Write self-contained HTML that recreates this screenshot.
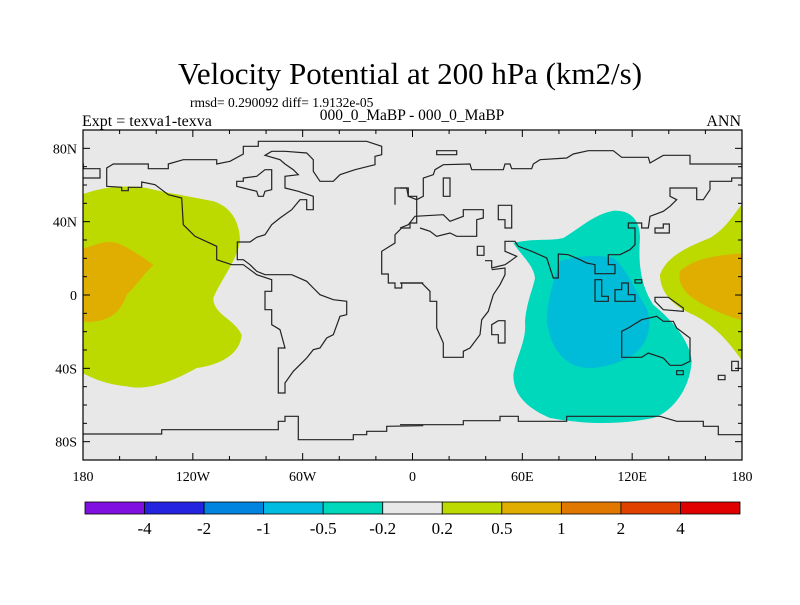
<!DOCTYPE html>
<html><head><meta charset="utf-8"><style>
body{margin:0;background:#fff;}
svg text{font-family:"Liberation Serif",serif;fill:#000;}
</style></head><body>
<svg id="chart" width="800" height="600" viewBox="0 0 800 600">
<text x="410" y="84" font-size="31" text-anchor="middle">Velocity Potential at 200 hPa (km2/s)</text>
<text x="190" y="107" font-size="13.5">rmsd= 0.290092 diff= 1.9132e-05</text>
<text x="82" y="126" font-size="16">Expt = texva1-texva</text>
<text x="412" y="120" font-size="15.5" text-anchor="middle">000_0_MaBP - 000_0_MaBP</text>
<text x="741" y="126" font-size="16" text-anchor="end">ANN</text>
<g id="map"></g>
<g id="cbar"></g>
</svg>
<script>
const xTickLabels=["180","120W","60W","0","60E","120E","180"];
const xTickLons=[-180,-120,-60,0,60,120,180];
const yTickLabels=["80S","40S","0","40N","80N"];
const yTickLats=[-80,-40,0,40,80];
const levels=["-4","-2","-1","-0.5","-0.2","0.2","0.5","1","2","4"];
const levelColors=["#8010e0","#2424e0","#0084e0","#00bce0","#00d8bc","#e8e8e8","#bcd900","#dfae00","#e07800","#e04000","#e00000"];

const NS="http://www.w3.org/2000/svg";
const L=83,R=742,T=130,B=460;
const xs=lon=>L+(lon+180)/360*(R-L);
const ys=lat=>B-(lat+90)/180*(B-T);
function mk(tag,attrs,parent){const e=document.createElementNS(NS,tag);for(const k in attrs)e.setAttribute(k,attrs[k]);parent.appendChild(e);return e;}
const map=document.getElementById('map');
const bg=mk('rect',{x:L,y:T,width:R-L,height:B-T,fill:'#e8e8e8'},map);


const clip=mk('clipPath',{id:'clp'},map);mk('rect',{x:L,y:T,width:R-L,height:B-T},clip);
const g=mk('g',{'clip-path':'url(#clp)'},map);

// transform zoom-coord path strings (3x, offsets)
function tp(d,ox,oy){return d.replace(/(-?\d+(?:\.\d+)?),(-?\d+(?:\.\d+)?)/g,(m,a,b)=>((+a)/3+ox).toFixed(1)+','+((+b)/3+oy).toFixed(1));}
const fills=[
 ["green-region-west","#bcd900","M-20,210 C60,175 130,170 200,180 C260,195 330,205 400,220 C450,235 480,280 480,340 C470,400 420,460 400,510 C400,560 460,570 485,620 C480,680 420,710 350,720 C280,760 200,790 140,775 C80,770 30,750 -20,720 Z",80,128],
 ["orange-region-west","#dfae00","M-20,370 C40,355 70,335 110,345 C150,360 190,390 220,410 C190,440 170,470 140,500 C120,560 80,590 -20,580 Z",80,128],
 ["teal-region","#00d8bc","M340,345 C400,330 450,340 490,330 C540,300 580,260 640,248 C700,245 720,285 720,330 C715,400 720,470 760,530 C820,580 870,640 875,700 C870,780 820,850 760,870 C660,890 560,890 450,870 C380,840 340,800 340,740 C350,680 380,640 375,580 C380,520 400,480 405,450 C400,410 370,390 340,345 Z",400,128],
 ["blue-region","#00bcd8","M480,400 C540,380 600,380 640,390 C680,420 700,480 740,540 C760,600 740,650 700,680 C650,710 580,730 530,715 C470,690 450,640 440,580 C440,520 460,460 480,400 Z",400,128],
 ["green-region-east","#bcd900","M1040,210 C1000,260 980,300 930,330 C880,350 800,380 780,440 C780,500 830,540 880,560 C940,590 990,640 1040,720 Z",400,128],
 ["orange-region-east","#dfae00","M1040,375 C960,380 880,390 840,430 C830,480 870,510 930,540 C970,560 1000,570 1040,580 Z",400,128]
];
fills.forEach(f=>{const p=mk('path',{d:tp(f[2],f[3],f[4]),fill:f[1]},g);

});

const coasts=[
 ["north-america","M80,175 L80,120 L100,108 L205,108 L205,122 L265,122 L265,108 L310,95 L410,95 L410,108 L450,100 L490,78 L490,55 L535,55 L535,40 L860,40 L905,55 L905,80 L885,85 L885,110 L825,125 L780,140 L760,160 L720,160 L700,130 L700,95 L680,75 L615,70 L575,70 L555,82 L600,95 L615,108 L640,125 L655,140 L615,145 L615,180 L655,190 L700,205 L700,245 L680,245 L680,215 L660,215 L635,245 L600,270 L575,290 L555,320 L530,328 L510,342 L472,342 L472,395 L490,395 L510,410 L530,430 L555,440 L575,440 L635,440 L680,460 L700,480 L720,500 L760,515 L800,520 L800,560 L780,565 L760,620 L740,630 L720,660 L700,665 L680,690 L660,710 L640,730 L615,765 L615,795 L595,795 L595,660 L615,660 L600,605 L575,590 L575,545 L555,545 L555,490 L575,490 L575,455 L530,440 L510,425 L490,410 L455,410 L410,395 L410,355 L345,325 L310,290 L305,210 L265,200 L245,185 L225,170 L185,162 L185,178 L145,178 L145,188 L125,188 L125,178 Z",80,128],
 ["alaska-west","M-10,108 L10,108 L10,122 L60,122 L60,150 L-10,150",80,128],
 ["greenland-island","M470,160 L490,160 L490,150 L530,145 L555,125 L575,125 L575,185 L555,190 L550,205 L535,205 L530,190 L490,180 L470,175 Z",80,128],
 ["antarctica-west","M-10,918 L245,918 L245,905 L595,905 L595,880 L615,880 L615,865 L655,865 L655,935 L820,935 L820,920 L860,920 L860,910 L920,910 L920,895 L1030,893",80,128],
 ["europe-west","M945,230 L945,180 L985,180 L985,205 L1010,205 L1010,285 L990,285 L990,300 L965,300 L945,320 L945,345 L905,370 L905,438 L925,438 L925,465 L945,465 L945,480 L965,480 L965,465 L1030,465",80,128],
 ["eurasia-north","M0,180 L20,180 L25,205 L50,215 L70,205 L70,150 L100,140 L105,125 L130,110 L210,108 L215,125 L310,125 L315,108 L330,108 L335,122 L395,122 L400,108 L420,95 L500,90 L520,78 L565,68 L640,68 L665,88 L745,88 L750,105 L790,82 L870,82 L870,108 L1030,108",400,128],
 ["east-asia","M1030,150 L995,150 L995,160 L930,160 L930,185 L910,215 L890,215 L890,180 L810,180 L810,205 L830,215 L810,235 L790,250 L750,265 L745,300 L725,300 L725,285 L685,285 L685,300 L705,300 L705,350 L690,365 L660,380 L625,380 L625,410 L645,410 L645,437 L585,437 L585,410 L560,405 L540,395 L505,380 L475,378 L475,450 L460,450 L440,390 L395,370 L355,355 L345,340 L315,340 L315,370 L350,385 L330,400 L315,410 L275,420 L275,398 L255,398",400,128],
 ["europe","M0,300 L25,290 L45,265 L130,260 L150,280 L190,265 L190,245 L250,245 L250,270 L230,275 L230,325 L170,325 L150,315 L110,325 L90,310 L60,300",400,128],
 ["africa","M0,465 L65,465 L90,490 L90,520 L110,520 L110,600 L130,645 L130,688 L190,688 L190,670 L210,660 L240,620 L245,575 L265,550 L280,500 L300,470 L315,440 L315,420 L275,425",400,128],
 ["caspian","M295,232 L335,232 L335,300 L315,300 L315,275 L295,275 Z",400,128],
 ["baltic","M130,150 L150,150 L150,205 L130,205 Z",400,128],
 ["arctic-island","M110,68 L170,68 L170,80 L110,80 Z",400,128],
 ["madagascar","M275,590 L295,578 L315,578 L315,645 L295,645 L295,620 L275,620 Z",400,128],
 ["red-sea-island","M232,355 L252,355 L252,382 L232,382 Z",400,128],
 ["sumatra","M585,455 L605,455 L605,505 L625,505 L625,520 L585,520 Z",400,128],
 ["borneo","M645,485 L665,485 L665,465 L685,465 L685,500 L705,500 L705,520 L645,520 Z",400,128],
 ["philippines","M705,455 L725,455 L725,465 L705,465 Z",400,128],
 ["new-guinea","M765,508 L805,508 L850,540 L850,550 L790,545 L765,520 Z",400,128],
 ["japan","M765,300 L790,300 L790,288 L808,288 L808,315 L765,315 Z",400,128],
 ["australia","M665,610 L685,600 L725,575 L770,565 L790,580 L820,580 L830,600 L870,630 L870,700 L845,712 L810,712 L790,690 L745,675 L725,688 L665,688 Z",400,128],
 ["tasmania","M830,728 L850,728 L850,740 L830,740 Z",400,128],
 ["new-zealand","M955,742 L975,742 L975,755 L955,755 Z M995,700 L1015,700 L1015,728 L995,728 Z",400,128],
 ["antarctica-east","M0,890 L190,890 L190,878 L300,878 L300,865 L355,865 L355,880 L500,880 L500,865 L780,865 L830,880 L910,880 L910,895 L955,895 L955,920 L1030,920",400,128]
];
coasts.forEach(c=>{const p=mk('path',{d:tp(c[1],c[2],c[3]),fill:'none',stroke:'#222','stroke-width':1.2},g);

});

const frame=mk('rect',{x:L,y:T,width:R-L,height:B-T,fill:'none',stroke:'#000','stroke-width':1.2},map);


// ticks
const tk=mk('g',{stroke:'#000','stroke-width':1},map);


for(let lon=-180;lon<=180;lon+=20){const x=xs(lon),len=(lon%60===0)?7:4;
 mk('line',{x1:x,y1:B,x2:x,y2:B-len},tk);mk('line',{x1:x,y1:T,x2:x,y2:T+len},tk);}
for(let lat=-90;lat<=90;lat+=10){const y=ys(lat),len=(lat%40===0)?7:4;
 mk('line',{x1:L,y1:y,x2:L+len,y2:y},tk);mk('line',{x1:R,y1:y,x2:R-len,y2:y},tk);}
xTickLabels.forEach((t,i)=>{const e=mk('text',{x:xs(xTickLons[i]),y:B+21,'font-size':14,'text-anchor':'middle'},map);e.textContent=t;

});
yTickLabels.forEach((t,i)=>{const e=mk('text',{x:L-6,y:ys(yTickLats[i])+5,'font-size':14,'text-anchor':'end'},map);e.textContent=t;

});
// colorbar
const cb=document.getElementById('cbar');


const cL=85,cR=740,cT=502,cH=12,n=levelColors.length,w=(cR-cL)/n;
levelColors.forEach((c,i)=>{const r=mk('rect',{x:cL+i*w,y:cT,width:w,height:cH,fill:c,stroke:'#000','stroke-width':0.8},cb);

});
levels.forEach((t,i)=>{const e=mk('text',{x:cL+(i+1)*w,y:cT+32,'font-size':17,'text-anchor':'middle'},cb);e.textContent=t;

});
</script>
</body></html>
